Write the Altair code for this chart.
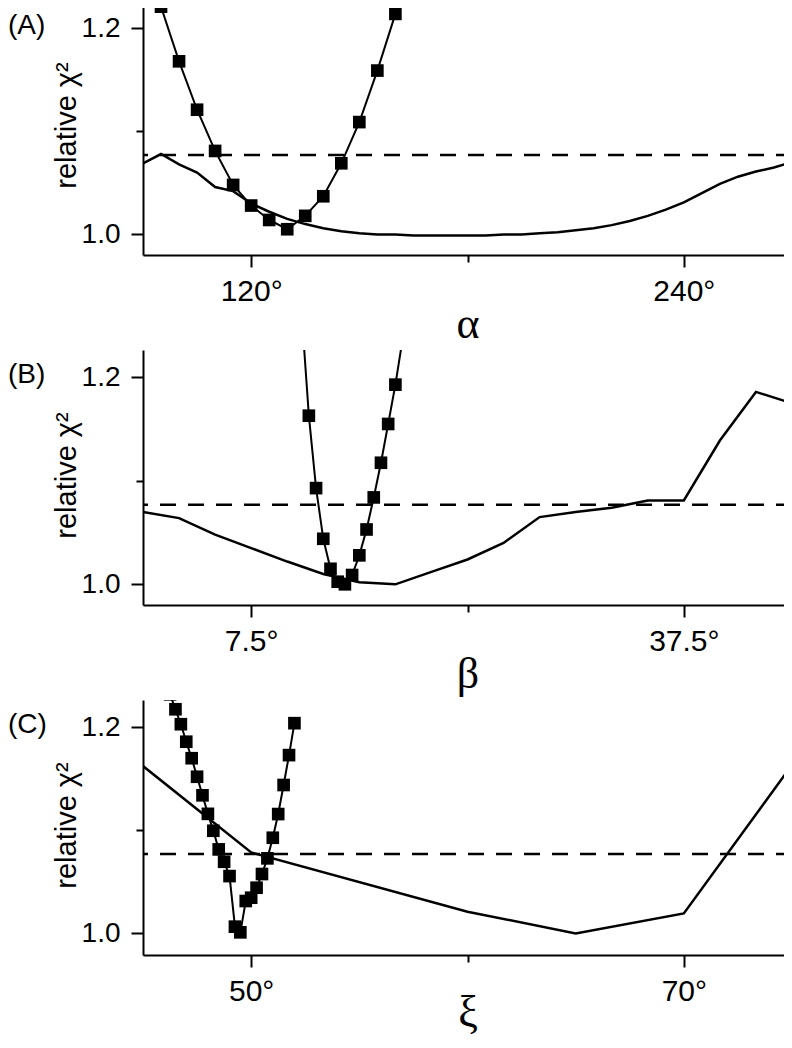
import altair as alt
import pandas as pd

# ---------------- data ----------------
# Panel A : alpha
a_sq_x = [95, 100, 105, 110, 115, 120, 125, 130, 135, 140, 145, 150, 155, 160, 165]
a_sq_y = [1.221, 1.168, 1.121, 1.081, 1.048, 1.028, 1.014, 1.005, 1.018, 1.037,
          1.069, 1.109, 1.159, 1.214, 1.275]
a_ln_x = [90, 95, 100, 105, 110, 115, 120, 125, 130, 135, 140, 145, 150, 155, 160,
          165, 170, 175, 180, 185, 190, 195, 200, 205, 210, 215, 220, 225, 230, 235,
          240, 245, 250, 255, 260, 265, 270]
a_ln_y = [1.069, 1.078, 1.068, 1.060, 1.046, 1.042, 1.030, 1.022, 1.015, 1.010,
          1.006, 1.003, 1.001, 1.000, 1.000, 0.999, 0.999, 0.999, 0.999, 0.999,
          1.000, 1.000, 1.001, 1.002, 1.004, 1.006, 1.009, 1.013, 1.018, 1.024,
          1.031, 1.040, 1.049, 1.056, 1.061, 1.065, 1.070]

# Panel B : beta
b_sq_x = [11.0, 11.5, 12.0, 12.5, 13.0, 13.5, 14.0, 14.5, 15.0, 15.5, 16.0, 16.5,
          17.0, 17.5, 18.0]
b_sq_y = [1.262, 1.163, 1.093, 1.044, 1.015, 1.0025, 1.000, 1.009, 1.028, 1.053,
          1.084, 1.1175, 1.155, 1.193, 1.237]
b_ln_x = [0, 2.5, 5, 7.5, 10, 12.5, 15, 17.5, 20, 22.5, 25, 27.5, 30, 32.5, 35,
          37.5, 40, 42.5, 45]
b_ln_y = [1.070, 1.064, 1.048, 1.035, 1.022, 1.010, 1.002, 1.000, 1.012, 1.024,
          1.040, 1.065, 1.070, 1.074, 1.081, 1.081, 1.139, 1.186, 1.175]

# Panel C : xi
c_sq_x = [46.25, 46.5, 46.75, 47.0, 47.25, 47.5, 47.75, 48.0, 48.25, 48.5, 48.75,
          49.0, 49.25, 49.5, 49.75, 50.0, 50.25, 50.5, 50.75, 51.0, 51.25, 51.5,
          51.75, 52.0]
c_sq_y = [1.232, 1.2175, 1.203, 1.186, 1.170, 1.152, 1.134, 1.116, 1.0996, 1.0815,
          1.0695, 1.0556, 1.0065, 1.001, 1.0314, 1.0346, 1.0443, 1.0576, 1.0728,
          1.0928, 1.1158, 1.144, 1.173, 1.204]
c_ln_x = [45, 50, 60, 65, 70, 75]
c_ln_y = [1.1624, 1.0785, 1.021, 1.000, 1.0194, 1.1634]

threshold = 1.077

y_ticks = [1.0, 1.1, 1.2]
y_title = "relative χ²"


def panel(sq_x, sq_y, ln_x, ln_y, xdom, xticks, xminor, xfmt, xtitle, tag, ydom,
          xtitle_y):
    sq = pd.DataFrame({"x": sq_x, "y": sq_y})
    ln = pd.DataFrame({"x": ln_x, "y": ln_y})
    th = pd.DataFrame({"y": [threshold]})
    tg = pd.DataFrame({"y": [1.2], "t": [tag]})

    xs = alt.Scale(domain=xdom, nice=False, zero=False)
    ys = alt.Scale(domain=ydom, nice=False, zero=False)

    xax = alt.Axis(
        values=xticks,
        labelExpr=f"datum.value == {xminor} ? '' : format(datum.value, '{xfmt}') + '°'",
        tickSize={"condition": {"test": f"datum.value == {xminor}", "value": 7}, "value": 12},
        labelFont="Liberation Sans", labelFontSize=30, labelPadding=9,
        title=xtitle, titleFont="Liberation Serif", titleFontSize=44,
        titleFontWeight="normal", titleY=xtitle_y, titleBaseline="alphabetic",
        grid=False,
    )
    yax = alt.Axis(
        values=y_ticks,
        labelExpr="datum.value == 1.1 ? '' : format(datum.value, '.1f')",
        tickSize={"condition": {"test": "datum.value == 1.1", "value": 7}, "value": 12},
        labelFont="Liberation Sans", labelFontSize=28, labelPadding=11,
        title=y_title, titleFont="Liberation Sans", titleFontSize=29,
        titleFontWeight="normal", titleX=-68, titleY=125, titleAngle=270,
        titleAlign="center", titleBaseline="alphabetic",
        grid=False,
    )

    base_x = alt.X("x:Q", scale=xs, axis=xax)
    base_y = alt.Y("y:Q", scale=ys, axis=yax)

    dashed = alt.Chart(th).mark_rule(
        color="black", strokeWidth=2.5, strokeDash=[16, 12], clip=True
    ).encode(y=alt.Y("y:Q", scale=ys, axis=yax))

    solid = alt.Chart(ln).mark_line(
        color="black", strokeWidth=2.5, clip=True
    ).encode(x=base_x, y=base_y, order="x:Q")

    sq_line = alt.Chart(sq).mark_line(
        color="black", strokeWidth=2, clip=True
    ).encode(x=base_x, y=base_y, order="x:Q")

    squares = alt.Chart(sq).mark_point(
        shape="square", filled=True, size=160, color="black", opacity=1, clip=True
    ).encode(x=base_x, y=base_y)

    label = alt.Chart(tg).mark_text(
        align="left", baseline="middle", font="Liberation Sans", fontSize=28,
        color="black", dy=-2
    ).encode(x=alt.value(-135), y=alt.Y("y:Q", scale=ys, axis=yax), text="t:N")

    return alt.layer(dashed, solid, sq_line, squares, label).properties(
        width=649, height=255
    )


pa = panel(a_sq_x, a_sq_y, a_ln_x, a_ln_y, [90, 270], [120, 180, 240], 180, "d",
           "α", "(A)", [0.98, 1.2275], 82)
pb = panel(b_sq_x, b_sq_y, b_ln_x, b_ln_y, [0, 45], [7.5, 22.5, 37.5], 22.5, ".1f",
           "β", "(B)", [0.98, 1.2265], 82)
pc = panel(c_sq_x, c_sq_y, c_ln_x, c_ln_y, [45, 75], [50, 60, 70], 60, "d",
           "ξ", "(C)", [0.979, 1.2265], 70)

chart = alt.vconcat(pa, pb, pc, spacing=95, bounds="flush").configure_view(
    stroke=None
).configure_axis(
    domainColor="black", domainWidth=2, tickColor="black", tickWidth=2,
    labelColor="black", titleColor="black"
).properties(
    padding={"left": 0, "top": -8, "right": -8, "bottom": 0}
)

chart.save("out.html", embed_options={"renderer": "svg", "actions": False})
